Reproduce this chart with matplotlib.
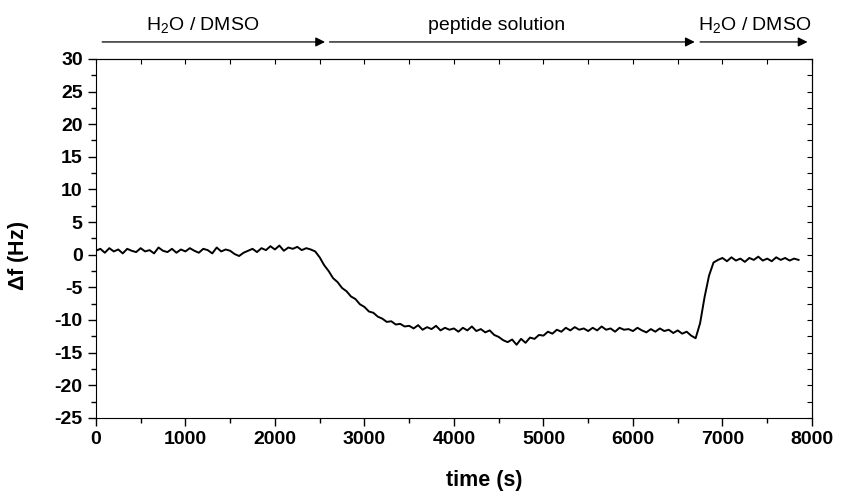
import numpy as np
import matplotlib
matplotlib.use("Agg")
import matplotlib.pyplot as plt
from matplotlib.ticker import MultipleLocator

plt.rcParams['font.family'] = ['Liberation Sans', 'DejaVu Sans']
plt.rcParams['mathtext.fontset'] = 'custom'
plt.rcParams['mathtext.rm'] = 'Liberation Sans'
plt.rcParams['mathtext.bf'] = 'Liberation Sans:bold'
plt.rcParams['axes.unicode_minus'] = False

# frequency shift, one value every 50 s
time_s = np.arange(0, 7900, 50)
delta_f = [
    0.6, 0.9, 0.3, 1.0, 0.5, 0.8, 0.2, 0.9, 0.6, 0.4,
    1.0, 0.5, 0.7, 0.2, 1.1, 0.6, 0.4, 0.9, 0.3, 0.8,
    0.5, 1.0, 0.6, 0.3, 0.9, 0.7, 0.2, 1.1, 0.5, 0.8,
    0.6, 0.1, -0.2, 0.3, 0.6, 0.9, 0.4, 1.0, 0.7, 1.3,
    0.8, 1.4, 0.6, 1.1, 0.9, 1.2, 0.7, 1.0, 0.8, 0.5,
    -0.4, -1.6, -2.5, -3.6, -4.2, -5.1, -5.6, -6.4, -6.8, -7.6,
    -8.0, -8.7, -8.9, -9.5, -9.8, -10.3, -10.2, -10.7, -10.6, -11.0,
    -10.9, -11.3, -10.8, -11.5, -11.1, -11.4, -10.9, -11.6, -11.2, -11.5,
    -11.3, -11.8, -11.2, -11.6, -11.0, -11.7, -11.4, -11.9, -11.6, -12.3,
    -12.6, -13.1, -13.4, -13.0, -13.8, -12.9, -13.5, -12.7, -12.9, -12.3,
    -12.4, -11.8, -12.1, -11.5, -11.8, -11.2, -11.6, -11.1, -11.5, -11.3,
    -11.7, -11.2, -11.6, -11.0, -11.5, -11.3, -11.8, -11.2, -11.5, -11.4,
    -11.7, -11.2, -11.6, -11.9, -11.4, -11.8, -11.3, -11.7, -11.5, -12.0,
    -11.6, -12.1, -11.8, -12.4, -12.8, -10.5, -6.5, -3.2, -1.2, -0.8,
    -0.5, -1.0, -0.4, -0.9, -0.6, -1.1, -0.5, -0.8, -0.3, -0.9,
    -0.6, -1.0, -0.4, -0.8, -0.5, -0.9, -0.6, -0.8,
]

phase_labels = [r'H$_\mathregular{2}$O / DMSO', 'peptide solution', r'H$_\mathregular{2}$O / DMSO']
phase_starts = [70, 2610, 6750]
phase_ends = [2560, 6690, 7950]
phase_text_x = [1190, 4480, 7360]

fig = plt.figure(figsize=(8.41, 4.91), dpi=100)
ax = fig.add_axes([0.114, 0.149, 0.8515, 0.731])
ax.plot(time_s, delta_f, color='black', lw=1.4)

ax.set_xlim(0, 8000)
ax.set_ylim(-25, 30)
ax.xaxis.set_major_locator(MultipleLocator(1000))
ax.xaxis.set_minor_locator(MultipleLocator(500))
ax.yaxis.set_major_locator(MultipleLocator(5))
ax.yaxis.set_minor_locator(MultipleLocator(2.5))
ax.tick_params(which='major', direction='out', length=6, width=1, labelsize=14)
ax.tick_params(which='minor', direction='out', length=3.5, width=1)
for lab in ax.get_xticklabels() + ax.get_yticklabels():
    lab.set_fontweight('bold')

top = ax.secondary_xaxis('top')
top.xaxis.set_major_locator(MultipleLocator(500))
top.tick_params(direction='in', length=3.5, labeltop=False)
right = ax.secondary_yaxis('right')
right.yaxis.set_major_locator(MultipleLocator(2.5))
right.tick_params(direction='in', length=3.5, labelright=False)

ax.set_xlabel('time (s)', fontsize=15.5, fontweight='bold', labelpad=12)
ax.xaxis.set_label_coords(0.543, -0.145)
ax.set_ylabel(r'$\mathbf{\Delta}$f (Hz)', fontsize=15.5, fontweight='bold')
ax.yaxis.set_label_coords(-0.09, 0.45)

for label, x0, x1, xt in zip(phase_labels, phase_starts, phase_ends, phase_text_x):
    ax.annotate('', xy=(x1, 32.6), xytext=(x0, 32.6), annotation_clip=False,
                arrowprops=dict(arrowstyle='-|>', color='black', lw=0.9,
                                mutation_scale=14, shrinkA=0, shrinkB=0))
    ax.text(xt, 34.4, label, ha='center', va='baseline',
            fontsize=14, clip_on=False)

fig.savefig('out.png', dpi=100)
